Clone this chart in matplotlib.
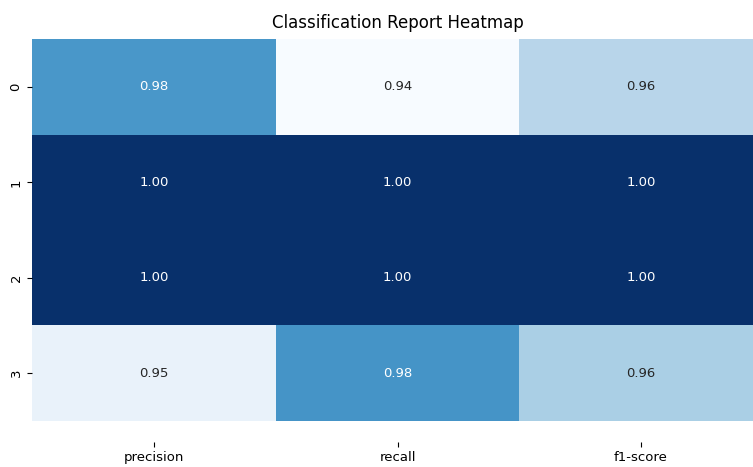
import matplotlib
matplotlib.use("Agg")
import matplotlib.pyplot as plt
import numpy as np
import pandas as pd
import seaborn as sns

# Per-class metrics from the classification report
classes = ["0", "1", "2", "3"]
metrics = ["precision", "recall", "f1-score"]
precision = [0.9767, 1.0, 1.0, 0.9455]
recall = [0.9412, 1.0, 1.0, 0.9773]
f1_score = [0.9586, 1.0, 1.0, 0.9611]

report = pd.DataFrame(
    {"precision": precision, "recall": recall, "f1-score": f1_score},
    index=classes,
)[metrics]

W, H = 753, 467
fig = plt.figure(figsize=(W / 100, H / 100), dpi=100)

# heatmap area in pixels (left, top, right, bottom); right side runs past the canvas
left, top, right, bottom = 32.3, 39.3, 762.8, 420.7
ax = fig.add_axes([left / W, 1 - bottom / H, (right - left) / W, (bottom - top) / H])

sns.heatmap(
    report,
    annot=True,
    fmt=".2f",
    cmap="Blues",
    cbar=False,
    ax=ax,
    annot_kws={"fontsize": 9.5},
)

ax.set_title("Classification Report Heatmap", fontsize=12, pad=8)
ax.tick_params(axis="both", labelsize=9.5)
ax.set_yticklabels(classes, rotation=90, va="center")
ax.set_xticklabels(metrics, rotation=0)
ax.spines["bottom"].set_position(("outward", 15))

fig.savefig("out.png", dpi=100)
